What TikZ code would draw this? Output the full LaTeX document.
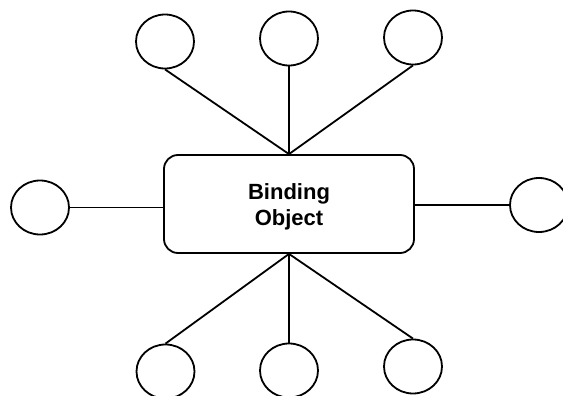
\documentclass[tikz,border=0pt]{standalone}
\usepackage{fontspec}
\setmainfont{Liberation Sans}
\usepackage{tikz}
\usetikzlibrary{shapes.geometric}

\begin{document}
\begin{tikzpicture}[x=1pt, y=-1pt, line width=1.8pt,
  slot/.style={draw, ellipse, minimum width=58pt, minimum height=54pt, inner sep=0pt},
  hub/.style={draw, rounded corners=14pt, minimum width=250pt, minimum height=98pt},
  link/.style={line width=1.8pt}]
  \useasboundingbox (0,0) rectangle (563,396);
  % Central object
  \node[hub] (obj) at (289,204) {};
  \node[align=center, font=\fontsize{22}{26}\selectfont\bfseries] (lbl) at (289,207) {Binding\\Object};
  % Top row
  \node[slot] (t1) at (165,41.5) {};
  \node[slot] (t2) at (289,38.5) {};
  \node[slot] (t3) at (413,37.5) {};
  \draw[link] (t1.south) -- (obj.north);
  \draw[link] (t2.south) -- (obj.north);
  \draw[link] (t3.south) -- (obj.north);
  % Sides
  \node[slot] (lt) at (40,207.5) {};
  \node[slot] (rt) at (539,205) {};
  \draw[link] (lt.east) -- (lt.east -| obj.west);
  \draw[link] (rt.west) -- (rt.west -| obj.east);
  % Bottom row
  \node[slot] (b1) at (165.5,371.5) {};
  \node[slot] (b2) at (289,370.5) {};
  \node[slot] (b3) at (413,366.5) {};
  \draw[link] (obj.south) -- (b1.north);
  \draw[link] (obj.south) -- (b2.north);
  \draw[link] (obj.south) -- (b3.north);
\end{tikzpicture}
\end{document}
